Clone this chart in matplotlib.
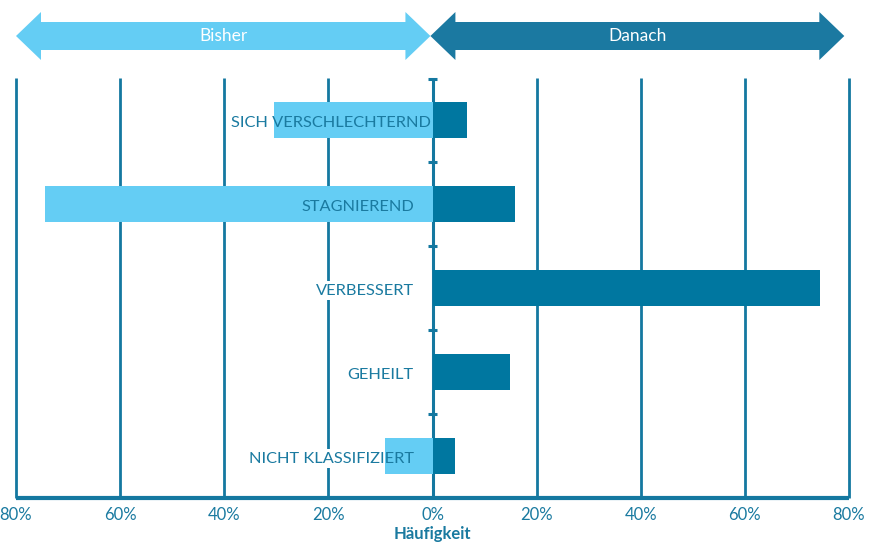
import matplotlib
matplotlib.use("Agg")
import matplotlib.pyplot as plt
from matplotlib.patches import Polygon
from matplotlib.transforms import blended_transform_factory

plt.rcParams['font.family'] = ['Lato', 'DejaVu Sans']

# Data
categories = ["SICH VERSCHLECHTERND", "STAGNIEREND", "VERBESSERT", "GEHEILT", "NICHT KLASSIFIZIERT"]
bisher = [30.5, 74.5, 0.0, 0.0, 9.2]
danach = [6.7, 15.9, 74.5, 14.8, 4.4]
tick_values = [-80, -60, -40, -20, 0, 20, 40, 60, 80]
tick_labels = ["80%", "60%", "40%", "20%", "0%", "20%", "40%", "60%", "80%"]
side_labels = ["Bisher", "Danach"]
xlabel = "Häufigkeit"

LIGHT = "#64CDF4"
DARK = "#0077A0"
ARROW_DARK = "#1B79A1"
LINE = "#1478A0"
TEXT = "#1A7AA0"

W, H = 881, 543
fig = plt.figure(figsize=(W / 100, H / 100), dpi=100)
ax = fig.add_axes([16 / W, 1 - 498 / H, (849 - 16) / W, (498 - 78) / H])
ax.set_xlim(-80, 80)
ax.set_ylim(len(categories) - 0.5, -0.5)
ax.axis("off")

ypos = list(range(len(categories)))

# vertical grid lines
for v in tick_values:
    if v == 0:
        continue
    ax.plot([v, v], [-0.5, len(categories) - 0.5], color=LINE, lw=2.0,
            zorder=1, solid_capstyle="butt", clip_on=False)

# zero axis with short category separators and top cap
ax.plot([0, 0], [-0.5, len(categories) - 0.5], color=LINE, lw=2.2,
        zorder=1, solid_capstyle="butt", clip_on=False)
for b in [-0.5 + 0.012] + [i + 0.5 for i in range(len(categories) - 1)]:
    ax.plot([-0.9, 0.9], [b, b], color=LINE, lw=2.2, zorder=1,
            solid_capstyle="butt", clip_on=False)

# bottom axis line
ax.plot([-80, 80], [len(categories) - 0.5, len(categories) - 0.5], color=LINE,
        lw=3.0, zorder=5, solid_capstyle="butt", clip_on=False)

# label positions (right edge of text, in data units)
label_right = [-0.4, -3.6, -3.6, -3.6, -3.6]
LABEL_FS = 11.8

# white backing behind labels, under the bars
for y, cat, xr in zip(ypos, categories, label_right):
    ax.text(xr, y + 0.03, cat, ha="right", va="center", fontsize=LABEL_FS,
            color=(1, 1, 1, 0), zorder=2,
            bbox=dict(boxstyle="square,pad=0.15", fc="white", ec="none"))

# bars
bar_h = 0.42
ax.barh(ypos, [-b for b in bisher], height=bar_h, color=LIGHT, zorder=3, linewidth=0)
ax.barh(ypos, danach, height=bar_h, color=DARK, zorder=3, linewidth=0)

# category labels
for y, cat, xr in zip(ypos, categories, label_right):
    ax.text(xr, y + 0.03, cat, ha="right", va="center", fontsize=LABEL_FS,
            color=TEXT, zorder=4)

# tick labels below axis
for v, lab in zip(tick_values, tick_labels):
    ax.text(v, len(categories) - 0.5 + 0.2, lab, ha="center", va="center",
            fontsize=12, color=TEXT, clip_on=False)
ax.text(0, len(categories) - 0.5 + 0.43, xlabel, ha="center", va="center",
        fontsize=12, fontweight="bold", color=TEXT, clip_on=False)

# double-headed arrows on top
tr = blended_transform_factory(ax.transData, fig.transFigure)
yc = 1 - 36 / H
hh = 24 / H
bh = 14 / H
head = 4.8


def double_arrow(x0, x1, color):
    pts = [(x0, yc), (x0 + head, yc + hh), (x0 + head, yc + bh), (x1 - head, yc + bh),
           (x1 - head, yc + hh), (x1, yc), (x1 - head, yc - hh), (x1 - head, yc - bh),
           (x0 + head, yc - bh), (x0 + head, yc - hh)]
    poly = Polygon(pts, closed=True, facecolor=color, edgecolor="none",
                   transform=tr, clip_on=False)
    ax.add_patch(poly)


double_arrow(-80, -0.4, LIGHT)
double_arrow(-0.4, 79.1, ARROW_DARK)
ax.text(-40.2, yc, side_labels[0], transform=tr, ha="center", va="center",
        fontsize=12.5, color="white")
ax.text(39.4, yc, side_labels[1], transform=tr, ha="center", va="center",
        fontsize=12.5, color="white")

fig.savefig("out.png", dpi=100)
